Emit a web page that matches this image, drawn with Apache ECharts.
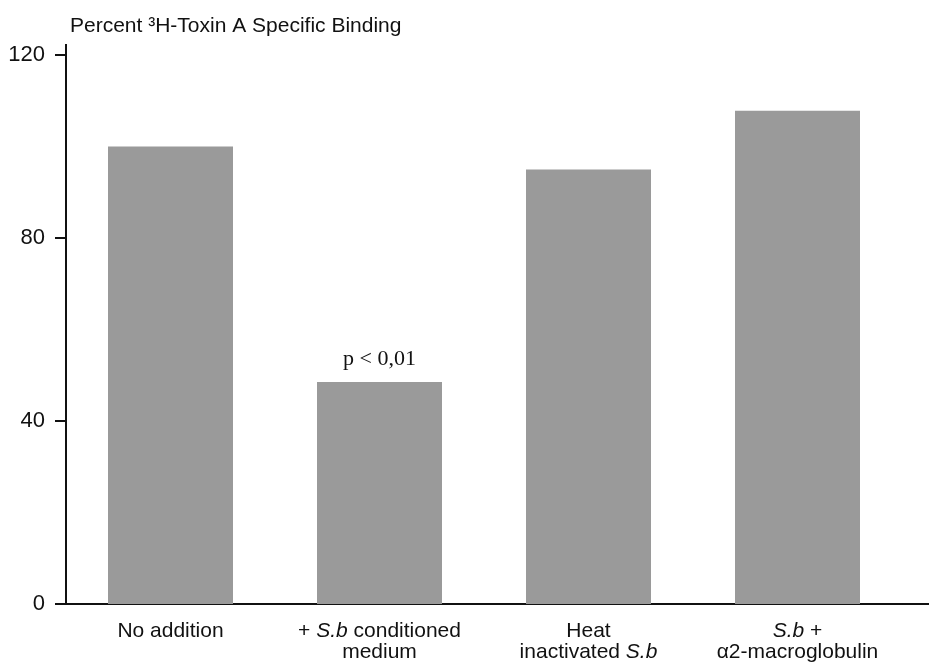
<!DOCTYPE html>
<html>
<head>
<meta charset="utf-8">
<script src="https://cdn.jsdelivr.net/npm/echarts@6/dist/echarts.min.js"></script>
<style>
  html, body { margin: 0; padding: 0; background: #ffffff; }
  #chart { width: 929px; height: 663px; }
</style>
</head>
<body>
<div id="chart"></div>
<script>
// Specific binding of tritiated toxin A under each treatment (% of control)
const categories = [
  'No addition',
  '+ S.b conditioned\nmedium',
  'Heat\ninactivated S.b',
  'S.b +\nα2-macroglobulin'
];
const bindingPercent = [100, 48.5, 95, 107.8];
const significance = ['', 'p < 0,01', '', ''];
const yTicks = [0, 40, 80, 120];

const sans = 'Liberation Sans, Arial, Helvetica, sans-serif';
const serif = 'Liberation Serif, Times New Roman, serif';
const ink = '#111111';

const chart = echarts.init(document.getElementById('chart'));

const barData = bindingPercent.map((v, i) => {
  const item = { value: v };
  if (significance[i]) {
    item.label = {
      show: true,
      position: 'top',
      distance: 12,
      formatter: significance[i],
      fontFamily: serif,
      fontSize: 22,
      color: ink
    };
  }
  return item;
});

chart.setOption({
  backgroundColor: '#ffffff',
  animation: false,
  title: {
    text: 'Percent ³H-Toxin A Specific Binding',
    left: 65,
    top: 11,
    textStyle: { fontFamily: sans, fontSize: 21, fontWeight: 'normal', color: ink }
  },
  grid: { left: 66, right: 27, top: 55, bottom: 59, containLabel: false },
  xAxis: {
    type: 'category',
    data: categories,
    axisLine: { show: true, lineStyle: { color: ink, width: 2 } },
    axisTick: { show: false },
    axisLabel: {
      interval: 0,
      margin: 17,
      fontFamily: sans,
      fontSize: 21,
      lineHeight: 21,
      color: ink,
      formatter: (s) => s.replace(/S\.b/g, '{i|S.b}'),
      rich: {
        i: { fontFamily: sans, fontSize: 21, lineHeight: 21, fontStyle: 'italic', color: ink }
      }
    }
  },
  yAxis: {
    type: 'value',
    min: yTicks[0],
    max: yTicks[yTicks.length - 1],
    interval: yTicks[1] - yTicks[0],
    splitLine: { show: false },
    axisLine: { show: true, lineStyle: { color: ink, width: 2 } },
    axisTick: { show: true, inside: false, length: 11, lineStyle: { color: ink, width: 2 } },
    axisLabel: { margin: 21, fontFamily: sans, fontSize: 22, color: ink }
  },
  series: [{
    type: 'bar',
    data: barData,
    barWidth: 125,
    itemStyle: { color: '#9a9a9a' }
  }]
});

// Extend the axis lines a little past the plotting area, as drawn in print
const origin = chart.convertToPixel({ gridIndex: 0 }, [0, 0]);
const topPt = chart.convertToPixel({ gridIndex: 0 }, [0, yTicks[yTicks.length - 1]]);
const gridRight = 929 - 27;
chart.setOption({
  graphic: [
    {
      type: 'line',
      shape: { x1: 66, y1: topPt[1] + 1, x2: 66, y2: topPt[1] - 11 },
      style: { stroke: ink, lineWidth: 2 }
    },
    {
      type: 'line',
      shape: { x1: gridRight - 1, y1: origin[1], x2: 929, y2: origin[1] },
      style: { stroke: ink, lineWidth: 2 }
    }
  ]
});
</script>
</body>
</html>
